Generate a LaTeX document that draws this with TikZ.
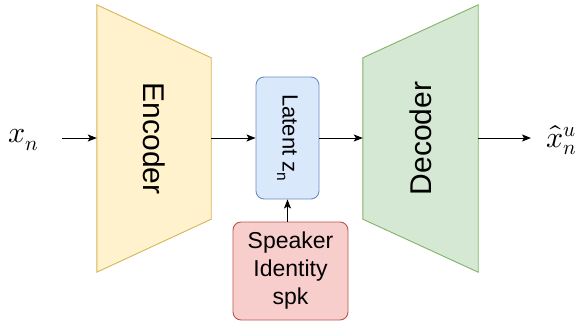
\documentclass[tikz,border=0pt]{standalone}
\usepackage{fontspec}
\setmainfont{Liberation Sans}
\usepackage{unicode-math}
\setmathfont{Latin Modern Math}
\usetikzlibrary{arrows.meta,calc}
\definecolor{encfill}{HTML}{FFF2CC}
\definecolor{encdraw}{HTML}{D6B656}
\definecolor{decfill}{HTML}{D5E8D4}
\definecolor{decdraw}{HTML}{82B366}
\definecolor{latfill}{HTML}{DAE8FC}
\definecolor{latdraw}{HTML}{6C8EBF}
\definecolor{spkfill}{HTML}{F8CECC}
\definecolor{spkdraw}{HTML}{B85450}
\begin{document}
\begin{tikzpicture}[x=1pt,y=-1pt,
  arr/.style={draw=black,line width=1pt,-{Stealth[length=9pt,width=7pt,inset=2pt]}},
  frame/.style={inner sep=0pt,minimum width=#1},
  lbl/.style={font=\fontsize{30}{34}\selectfont},
  mth/.style={font=\fontsize{30}{34}\selectfont,inner sep=0pt},
  rbox/.style={rounded corners=8pt,line width=0.9pt,inner sep=0pt}]
\useasboundingbox (0,0) rectangle (583,324);
% encoder
\node[frame=114pt,minimum height=267pt] (enc) at (154,138.5) {};
\path[fill=encfill,draw=encdraw,line width=0.9pt]
  (enc.north west) -- ($(enc.north east)+(0,53)$) -- ($(enc.south east)+(0,-53)$) -- (enc.south west) -- cycle;
\node[lbl,rotate=-90] at (enc.center) {Encoder};
% decoder
\node[frame=115pt,minimum height=267pt] (dec) at (420.5,138.5) {};
\path[fill=decfill,draw=decdraw,line width=0.9pt]
  ($(dec.north west)+(0,53)$) -- (dec.north east) -- (dec.south east) -- ($(dec.south west)+(0,-53)$) -- cycle;
\node[lbl,rotate=90] at (dec.center) {Decoder};
% latent
\node[rbox,fill=latfill,draw=latdraw,minimum width=63pt,minimum height=122pt] (lat) at (287.5,138) {};
\node[rotate=-90,font=\fontsize{22}{26}\selectfont] at (lat.center) {Latent z\textsubscript{n}};
% speaker
\node[rbox,fill=spkfill,draw=spkdraw,minimum width=115pt,minimum height=98pt] (spk) at (290.5,271) {};
\node[align=center,font=\fontsize{23}{28}\selectfont] at (spk.center) {Speaker\\Identity\\spk};
% inputs/outputs
\node[mth,anchor=west] (x) at (8,140) {$x_n$};
\node[mth,anchor=west] (xh) at (546,140) {$\hat{x}_n^u$};
\coordinate (xin) at (62,138);
\coordinate (xout) at (531,138);
\draw[arr] (xin) -- (enc.west |- xin);
\draw[arr] (enc.east |- xin) -- (lat.west |- xin);
\draw[arr] (lat.east |- xin) -- (dec.west |- xin);
\draw[arr] (dec.east |- xin) -- (xout);
\draw[arr] (spk.north -| lat.south) -- (lat.south);
\end{tikzpicture}
\end{document}
